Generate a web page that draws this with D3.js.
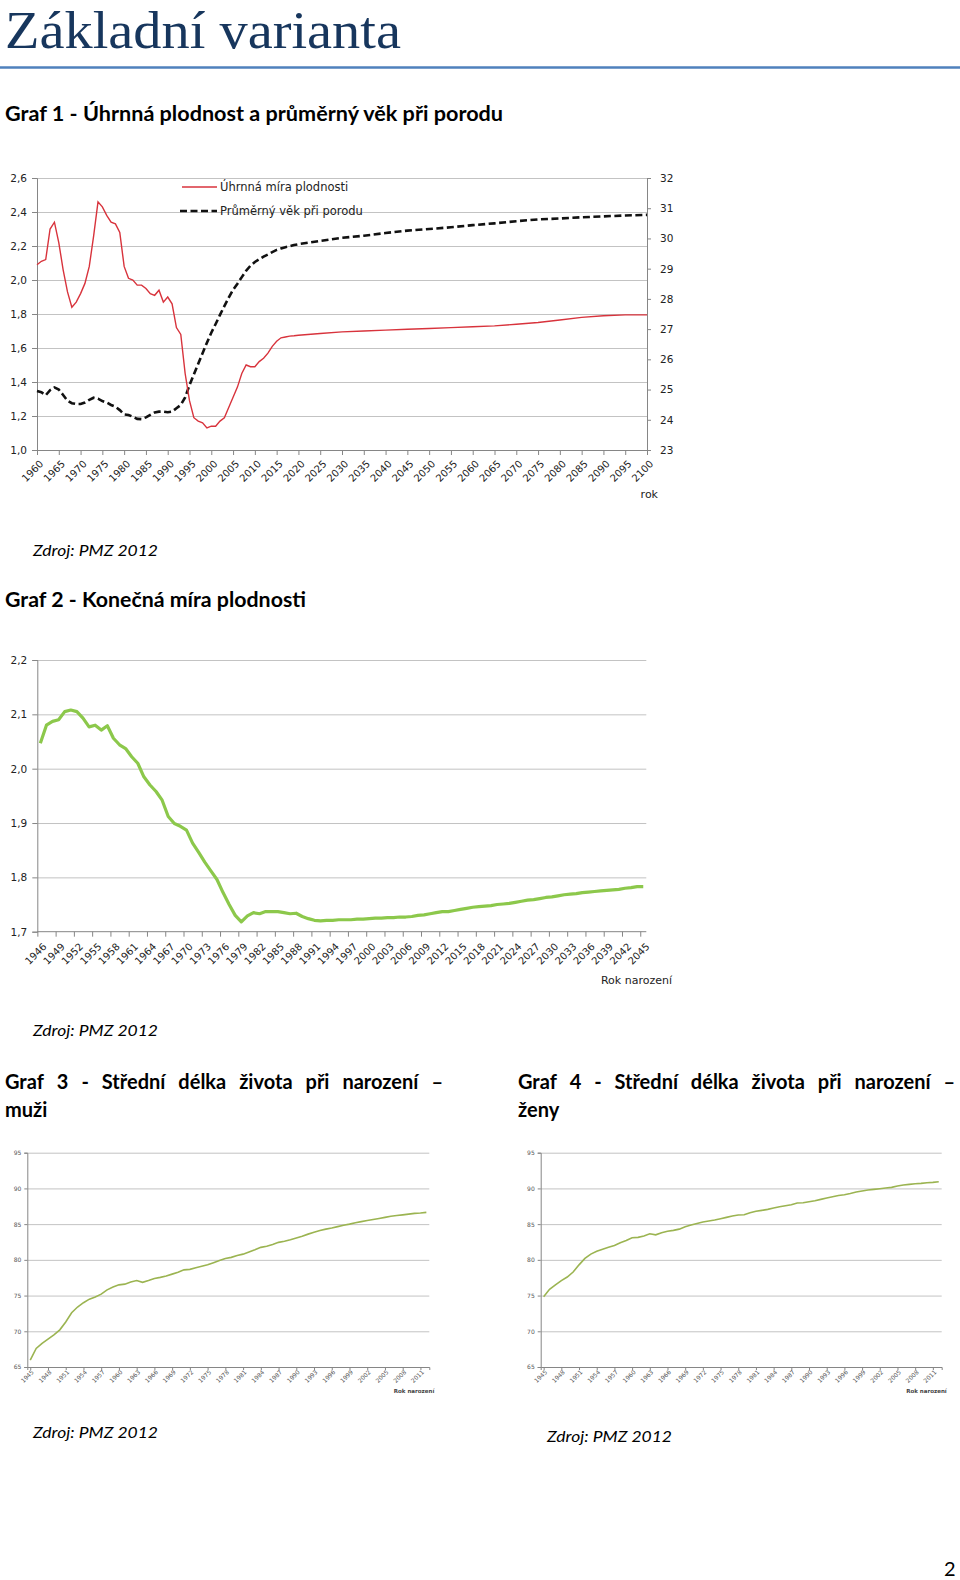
<!DOCTYPE html>
<html><head><meta charset="utf-8">
<script src="https://cdn.jsdelivr.net/npm/d3@7"></script>
<style>body{margin:0;background:#fff}svg{display:block}</style>
</head><body>
<svg id="c" width="960" height="1580"></svg>
<script>
// ---------------- DATA ----------------
// Graf 1
const g1Years = [1960,1961,1962,1963,1964,1965,1966,1967,1968,1969,1970,1971,1972,1973,1974,1975,1976,1977,1978,1979,
1980,1981,1982,1983,1984,1985,1986,1987,1988,1989,1990,1991,1992,1993,1994,1995,1996,1997,1998,1999,
2000,2001,2002,2003,2004,2005,2006,2007,2008,2009,2010,2011,2012,2013,2014,2015,2016,2017,2018,2019,2020,
2025,2030,2035,2040,2045,2050,2055,2060,2065,2070,2075,2080,2085,2090,2095,2100];
const g1Fertility = [2.09,2.11,2.12,2.30,2.34,2.22,2.06,1.93,1.84,1.87,1.92,1.98,2.08,2.26,2.46,2.43,2.38,2.34,2.33,2.28,
2.08,2.01,2.00,1.97,1.97,1.95,1.92,1.91,1.94,1.87,1.90,1.86,1.72,1.68,1.45,1.29,1.19,1.17,1.16,1.13,
1.14,1.14,1.17,1.19,1.25,1.31,1.37,1.45,1.50,1.49,1.49,1.52,1.54,1.57,1.61,1.64,1.66,1.665,1.67,1.672,1.675,
1.685,1.695,1.70,1.705,1.71,1.715,1.72,1.725,1.73,1.74,1.75,1.765,1.78,1.79,1.795,1.795];
const g1MeanAge = [24.95,24.91,24.81,24.98,25.07,25.00,24.82,24.63,24.55,24.52,24.52,24.57,24.66,24.73,24.70,24.62,24.57,24.49,24.43,24.32,
24.18,24.16,24.10,24.03,24.02,24.08,24.16,24.24,24.27,24.27,24.25,24.27,24.38,24.49,24.74,25.15,25.50,25.85,26.20,26.55,
26.88,27.17,27.47,27.76,28.04,28.30,28.50,28.72,28.93,29.10,29.22,29.31,29.40,29.47,29.55,29.62,29.67,29.71,29.74,29.78,29.81,
29.92,30.02,30.09,30.18,30.26,30.31,30.37,30.44,30.50,30.57,30.63,30.66,30.70,30.73,30.76,30.78];
const g1LeftTicks = [1.0,1.2,1.4,1.6,1.8,2.0,2.2,2.4,2.6];
const g1RightTicks = [23,24,25,26,27,28,29,30,31,32];
const g1XTicks = [1960,1965,1970,1975,1980,1985,1990,1995,2000,2005,2010,2015,2020,2025,2030,2035,2040,2045,2050,2055,2060,2065,2070,2075,2080,2085,2090,2095,2100];
const g1SeriesNames = ["Úhrnná míra plodnosti","Průměrný věk při porodu"];

// Graf 2
const g2Years = [1946,1947,1948,1949,1950,1951,1952,1953,1954,1955,1956,1957,1958,1959,1960,1961,1962,1963,1964,1965,
1966,1967,1968,1969,1970,1971,1972,1973,1974,1975,1976,1977,1978,1979,1980,1981,1982,1983,1984,1985,
1986,1987,1988,1989,1990,1991,1992,1993,1994,1995,1996,1997,1998,1999,2000,2001,2002,2003,2004,2005,
2006,2007,2008,2009,2010,2011,2012,2013,2014,2015,2016,2017,2018,2019,2020,2021,2022,2023,2024,2025,
2026,2027,2028,2029,2030,2031,2032,2033,2034,2035,2036,2037,2038,2039,2040,2041,2042,2043,2044,2045];
const g2Values = [2.047,2.080,2.087,2.090,2.105,2.108,2.105,2.093,2.077,2.080,2.071,2.079,2.056,2.044,2.037,2.022,2.010,1.985,1.970,1.958,
1.942,1.912,1.899,1.894,1.887,1.863,1.846,1.828,1.812,1.796,1.772,1.750,1.730,1.718,1.729,1.735,1.733,1.737,1.737,1.737,
1.735,1.733,1.734,1.728,1.724,1.721,1.720,1.721,1.721,1.722,1.722,1.722,1.723,1.723,1.724,1.725,1.725,1.726,1.726,1.727,
1.727,1.728,1.730,1.731,1.733,1.735,1.737,1.737,1.739,1.741,1.743,1.745,1.746,1.747,1.748,1.750,1.751,1.752,1.754,1.756,
1.758,1.759,1.761,1.763,1.764,1.766,1.768,1.769,1.770,1.772,1.773,1.774,1.775,1.776,1.777,1.778,1.780,1.781,1.783,1.783];
const g2YTicks = [1.7,1.8,1.9,2.0,2.1,2.2];
const g2XTicks = [1946,1949,1952,1955,1958,1961,1964,1967,1970,1973,1976,1979,1982,1985,1988,1991,1994,1997,2000,2003,2006,2009,2012,2015,2018,2021,2024,2027,2030,2033,2036,2039,2042,2045];

// Graf 3 & 4
const g34Years = [1945,1946,1947,1948,1949,1950,1951,1952,1953,1954,1955,1956,1957,1958,1959,1960,1961,1962,1963,1964,
1965,1966,1967,1968,1969,1970,1971,1972,1973,1974,1975,1976,1977,1978,1979,1980,1981,1982,1983,1984,
1985,1986,1987,1988,1989,1990,1991,1992,1993,1994,1995,1996,1997,1998,1999,2000,2001,2002,2003,2004,
2005,2006,2007,2008,2009,2010,2011,2012];
const g3Men = [65.97,67.6,68.3,68.9,69.5,70.2,71.3,72.6,73.4,74.0,74.5,74.8,75.2,75.8,76.2,76.5,76.6,76.9,77.1,76.85,
77.1,77.4,77.55,77.75,78.0,78.25,78.6,78.67,78.9,79.1,79.3,79.6,79.9,80.2,80.35,80.6,80.8,81.1,81.4,81.75,
81.9,82.15,82.45,82.6,82.8,83.05,83.3,83.6,83.85,84.1,84.3,84.45,84.65,84.85,85.0,85.2,85.35,85.5,85.65,85.8,
85.95,86.1,86.2,86.3,86.4,86.5,86.55,86.65];
const g4Women = [74.84,75.87,76.5,77.1,77.6,78.3,79.3,80.2,80.8,81.2,81.5,81.75,82.0,82.4,82.7,83.1,83.15,83.33,83.65,83.5,
83.8,84.0,84.13,84.3,84.64,84.87,85.1,85.3,85.43,85.57,85.76,85.95,86.13,86.27,86.32,86.6,86.8,86.93,87.07,87.25,
87.44,87.58,87.72,87.95,88.0,88.14,88.28,88.47,88.65,88.84,89.0,89.12,89.3,89.5,89.63,89.77,89.87,89.96,90.05,90.15,
90.33,90.47,90.57,90.66,90.7,90.8,90.85,90.94];
const g34YTicks = [65,70,75,80,85,90,95];
const g34XTicks = [1945,1948,1951,1954,1957,1960,1963,1966,1969,1972,1975,1978,1981,1984,1987,1990,1993,1996,1999,2002,2005,2008,2011];

// ---------------- DRAWING ----------------
const svg = d3.select("#c");
svg.append("rect").attr("width",960).attr("height",1580).attr("fill","#fff");
const comma = d => d.toFixed(1).replace(".", ",");
const AX = "#868686", GRID = "#c3c3c3";
const TF = "DejaVu Sans, Verdana, sans-serif";
const HF = "Lato, 'Open Sans', sans-serif";

// Page title + rule
svg.append("text").attr("x",5).attr("y",48).attr("font-family","Liberation Serif, serif")
  .attr("font-size",52).attr("fill","#17365D").text("Základní varianta")
  .attr("textLength",396).attr("lengthAdjust","spacingAndGlyphs");
svg.append("line").attr("x1",0).attr("x2",960).attr("y1",67.5).attr("y2",67.5)
  .attr("stroke","#4F81BD").attr("stroke-width",2.5);

function heading(x, y, txt, w){
  const t = svg.append("text").attr("x",x).attr("y",y).attr("font-family",HF)
    .attr("font-weight","bold").attr("font-size",20).attr("fill","#000").text(txt);
  if (w) t.attr("textLength",w).attr("lengthAdjust","spacingAndGlyphs");
  return t;
}
function justified(x0, x1, y, txt){
  const words = txt.split(" ");
  const nodes = words.map(w => svg.append("text").attr("y",y).attr("font-family",HF)
    .attr("font-weight","bold").attr("font-size",20).attr("fill","#000").text(w));
  const ws = nodes.map(n => n.node().getComputedTextLength());
  const gap = (x1 - x0 - d3.sum(ws)) / (words.length - 1);
  let x = x0;
  nodes.forEach((n,i)=>{ n.attr("x",x); x += ws[i] + gap; });
}
function source(x, y){
  svg.append("text").attr("x",x).attr("y",y).attr("font-family",HF).attr("font-style","italic")
    .attr("font-size",16).attr("fill","#000").text("Zdroj: PMZ 2012")
    .attr("textLength",125).attr("lengthAdjust","spacingAndGlyphs");
}

heading(5,121,"Graf 1 - Úhrnná plodnost a průměrný věk při porodu",498);
source(33,556);
heading(5,607,"Graf 2 - Konečná míra plodnosti",301);
source(33,1036);
justified(5,443,1089,"Graf 3 - Střední délka života při narození –");
heading(5,1117,"muži");
justified(518,955,1089,"Graf 4 - Střední délka života při narození –");
heading(518,1117,"ženy");
source(33,1438);
source(547,1442);
svg.append("text").attr("x",944).attr("y",1576).attr("font-family",HF).attr("font-size",20).text("2");

function styleAxis(g, fs, fill){
  g.select(".domain").attr("stroke",AX);
  g.selectAll(".tick line").attr("stroke",AX);
  g.selectAll(".tick text").attr("font-family",TF).attr("font-size",fs).attr("fill",fill||"#222");
}
function grid(y, ticks, x0, x1){
  const g = svg.append("g").attr("transform",`translate(${x0},0)`)
    .call(d3.axisLeft(y).tickValues(ticks).tickSize(-(x1-x0)).tickFormat(""));
  g.select(".domain").remove();
  g.selectAll(".tick line").attr("stroke",GRID).attr("stroke-width",1);
}
function rotLabels(g, dx, dy){
  g.selectAll(".tick text").attr("x",0).attr("y",0).attr("dy","0.35em")
    .attr("text-anchor","end").attr("transform",`translate(${dx},${dy}) rotate(-45)`);
}

// ---- Graf 1 ----
{
  const x = d3.scaleLinear([1960,2100],[37,647]);
  const yL = d3.scaleLinear([1.0,2.6],[450,178]);
  const yR = d3.scaleLinear([23,32],[450,178]);
  grid(yL, g1LeftTicks.slice(1), 37, 647);
  const gl = svg.append("g").attr("transform","translate(37,0)")
    .call(d3.axisLeft(yL).tickValues(g1LeftTicks).tickSize(5).tickPadding(5).tickFormat(comma));
  styleAxis(gl,10.5);
  const gr = svg.append("g").attr("transform","translate(647,0)")
    .call(d3.axisRight(yR).tickValues(g1RightTicks).tickSize(4).tickPadding(9).tickFormat(d3.format("d")));
  styleAxis(gr,10.5);
  const gx = svg.append("g").attr("transform","translate(0,450)")
    .call(d3.axisBottom(x).tickValues(g1XTicks).tickSize(5).tickFormat(d3.format("d")));
  styleAxis(gx,10);
  rotLabels(gx,4,12);
  svg.append("text").attr("x",658).attr("y",498).attr("text-anchor","end").attr("font-family",TF)
    .attr("font-size",11).attr("fill","#222").text("rok");

  const idx = d3.range(g1Years.length);
  svg.append("path").attr("fill","none").attr("stroke","#111").attr("stroke-width",2.6)
    .attr("stroke-dasharray","7,3.5")
    .attr("d", d3.line().x(i=>x(g1Years[i])).y(i=>yR(g1MeanAge[i]))(idx));
  svg.append("path").attr("fill","none").attr("stroke","#d8333c").attr("stroke-width",1.4)
    .attr("d", d3.line().x(i=>x(g1Years[i])).y(i=>yL(g1Fertility[i]))(idx));

  // legend
  svg.append("line").attr("x1",182).attr("x2",217).attr("y1",187).attr("y2",187)
    .attr("stroke","#d8333c").attr("stroke-width",1.4);
  svg.append("line").attr("x1",180).attr("x2",217).attr("y1",211).attr("y2",211)
    .attr("stroke","#111").attr("stroke-width",2.6).attr("stroke-dasharray","7,3.5");
  svg.append("text").attr("x",220).attr("y",191).attr("font-family",TF).attr("font-size",11.5)
    .attr("fill","#222").text(g1SeriesNames[0]);
  svg.append("text").attr("x",220).attr("y",215).attr("font-family",TF).attr("font-size",11.5)
    .attr("fill","#222").text(g1SeriesNames[1]);
}

// ---- Graf 2 ----
{
  const x = d3.scaleLinear([1945.5,2045.5],[37.3,646.3]);
  const y = d3.scaleLinear([1.7,2.2],[931.7,660]);
  grid(y, g2YTicks.slice(1), 37.3, 646.3);
  const gl = svg.append("g").attr("transform","translate(37.3,0)")
    .call(d3.axisLeft(y).tickValues(g2YTicks).tickSize(5).tickPadding(5).tickFormat(comma));
  styleAxis(gl,10.5);
  const gx = svg.append("g").attr("transform","translate(-3,931.7)")
    .call(d3.axisBottom(x).tickValues(g2XTicks).tickSize(5).tickFormat(d3.format("d")));
  gx.select(".domain").attr("d",`M40.3,0H649.3`);
  styleAxis(gx,10);
  rotLabels(gx,7,13);
  svg.append("text").attr("x",672).attr("y",984).attr("text-anchor","end").attr("font-family",TF)
    .attr("font-size",11).attr("fill","#222").text("Rok narození");
  const idx = d3.range(g2Years.length);
  svg.append("path").attr("fill","none").attr("stroke","#8cc84b").attr("stroke-width",3.2)
    .attr("stroke-linejoin","round")
    .attr("d", d3.line().x(i=>x(g2Years[i])).y(i=>y(g2Values[i]))(idx));
}

// ---- Graf 3 & 4 ----
function lifeChart(x0, x1, values){
  const x = d3.scaleLinear([1944.5,2012.5],[x0,x1]);
  const y = d3.scaleLinear([65,95],[1367,1152.7]);
  grid(y, g34YTicks.slice(1), x0, x1);
  const gl = svg.append("g").attr("transform",`translate(${x0},0)`)
    .call(d3.axisLeft(y).tickValues(g34YTicks).tickSize(3).tickPadding(3).tickFormat(d3.format("d")));
  styleAxis(gl,6,"#555");
  const gx = svg.append("g").attr("transform","translate(0,1367)")
    .call(d3.axisBottom(x).tickValues(g34XTicks).tickSize(3).tickFormat(d3.format("d")));
  styleAxis(gx,6,"#555");
  rotLabels(gx,2,4);
  svg.append("text").attr("x",x1+5).attr("y",1393).attr("text-anchor","end").attr("font-family",TF)
    .attr("font-size",5.5).attr("font-weight","bold").attr("fill","#444").text("Rok narození");
  const idx = d3.range(g34Years.length);
  svg.append("path").attr("fill","none").attr("stroke","#9bb451").attr("stroke-width",1.6)
    .attr("d", d3.line().x(i=>x(g34Years[i])).y(i=>y(values[i]))(idx));
}
lifeChart(27.3, 429.3, g3Men);
lifeChart(540.7, 941.7, g4Women);
</script>
</body></html>
